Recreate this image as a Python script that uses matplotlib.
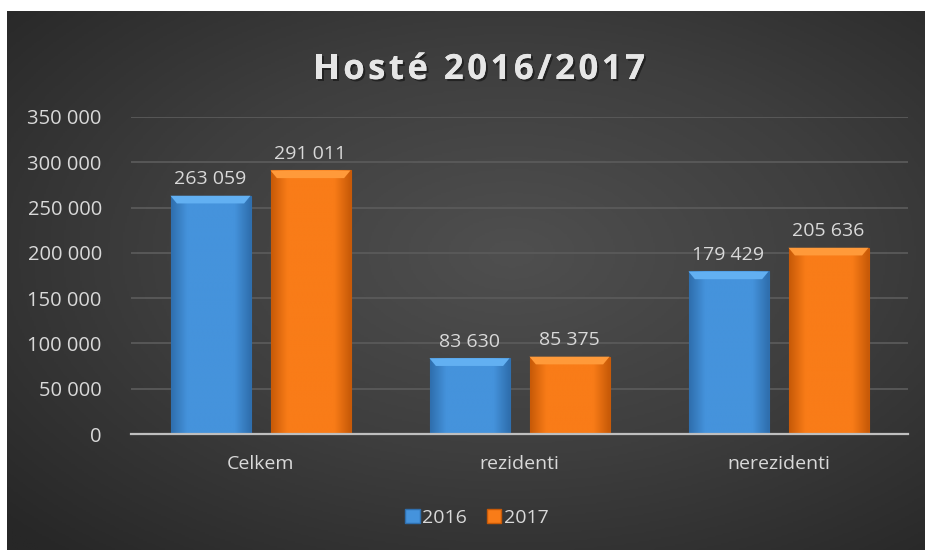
import matplotlib
matplotlib.use("Agg")
import matplotlib.pyplot as plt
import numpy as np
from matplotlib.colors import LinearSegmentedColormap
import matplotlib.patheffects as pe
from matplotlib.patches import Patch

categories = ["Celkem", "rezidenti", "nerezidenti"]
series_names = ["2016", "2017"]
values_2016 = [263059, 83630, 179429]
values_2017 = [291011, 85375, 205636]
yticks = [0, 50000, 100000, 150000, 200000, 250000, 300000, 350000]
title = "Hosté 2016/2017"

def fmt(v):
    return f"{v:,}".replace(",", " ")

plt.rcParams['font.family'] = ['Open Sans', 'DejaVu Sans']
txt = "#d9d9d9"

fig = plt.figure(figsize=(9.25, 5.5), dpi=100)
fig.patch.set_facecolor("white")

# background panel with radial gradient
bg = fig.add_axes([7/925, 0, 1 - 7/925, 1 - 11/550])
bg.set_axis_off()
ny, nx = 300, 500
yy, xx = np.mgrid[0:1:ny*1j, 0:1:nx*1j]
r = np.sqrt(((xx - 0.55) / 0.75) ** 2 + ((yy - 0.55) / 0.75) ** 2)
r = np.clip(r, 0, 1)
bg_cmap = LinearSegmentedColormap.from_list("bg", ["#4f4f4f", "#3e3e3e", "#272727"])
bg.imshow(r, cmap=bg_cmap, aspect="auto", extent=[0, 1, 0, 1], origin="lower")
bg.set_xlim(0, 1); bg.set_ylim(0, 1)

ax = fig.add_axes([131/925, 1 - 434/550, (908 - 131)/925, (434 - 117)/550])
ax.patch.set_alpha(0)
x = np.arange(len(categories))
w = 80 / 259
off = 50 / 259

colors = [("#4593dc", "#62b0f2", "#2f6fae"), ("#f97c18", "#ff9a3a", "#c85a08")]
for i, (vals, name) in enumerate(zip([values_2016, values_2017], series_names)):
    base, light, dark = colors[i]
    bars = ax.bar(x + (i * 2 - 1) * off, vals, width=w, color=base, zorder=3, label=name,
                  edgecolor=dark, linewidth=0.8)
    for b, v in zip(bars, vals):
        bx, by = b.get_x(), b.get_y()
        bw, bh = b.get_width(), b.get_height()
        grad = np.linspace(0, 1, 64)[None, :]
        im = ax.imshow(np.repeat(grad, 2, axis=0), cmap=LinearSegmentedColormap.from_list(
            "h", [dark, base, base, base, base, dark]), aspect="auto",
            extent=[bx, bx + bw, by, by + bh], zorder=3.5, interpolation="bicubic")
        im.set_clip_path(b)
        hb = 8500
        ax.fill([bx, bx + bw, bx + bw * 0.92, bx + bw * 0.08],
                [v, v, v - hb, v - hb], color=light, zorder=4, lw=0)
        ax.text(bx + bw / 2, v + 8500, fmt(v), ha="center", va="bottom",
                color=txt, fontsize=14, zorder=5)

ax.set_xlim(-0.5, 2.5)
ax.set_ylim(0, 350000)
ax.set_yticks(yticks)
ax.set_yticklabels([fmt(t) for t in yticks], color=txt, fontsize=14.5)
ax.set_xticks(x)
ax.set_xticklabels(categories, color=txt, fontsize=14)
ax.tick_params(axis="y", length=0, pad=21)
ax.tick_params(axis="x", length=0, pad=15)
ax.grid(axis="y", color="#5a5a5a", linewidth=1.3, zorder=0)
ax.set_axisbelow(True)
for s in ["top", "right", "left"]:
    ax.spines[s].set_visible(False)
ax.spines["bottom"].set_color("#bfbfbf")
ax.spines["bottom"].set_linewidth(1.6)
ax.spines["bottom"].set_zorder(6)

# title with manual letter spacing
fig.canvas.draw()
renderer = fig.canvas.get_renderer()
tkw = dict(fontsize=25, fontweight="bold", color="#e6e6e6", va="baseline", ha="left",
           path_effects=[pe.withSimplePatchShadow(offset=(1.5, -1.5), shadow_rgbFace="#111111", alpha=0.6), pe.Normal()])
spacing = 3.5  # px
widths = []
for ch in title:
    t = fig.text(0, 0, ch if ch != " " else "a", **tkw)
    ww = t.get_window_extent(renderer).width
    if ch == " ":
        t2 = fig.text(0, 0, "a a", **tkw)
        t3 = fig.text(0, 0, "aa", **tkw)
        ww = t2.get_window_extent(renderer).width - t3.get_window_extent(renderer).width
        t2.remove(); t3.remove()
    widths.append(ww)
    t.remove()
total = sum(widths) + spacing * (len(title) - 1)
cx = 479
xpos = cx - total / 2
for ch, ww in zip(title, widths):
    if ch != " ":
        fig.text(xpos / 925, 1 - 79 / 550, ch, **tkw)
    xpos += ww + spacing

handles = [Patch(facecolor=colors[0][0], edgecolor=colors[0][2]),
           Patch(facecolor=colors[1][0], edgecolor=colors[1][2])]
leg = fig.legend(handles, series_names, loc="center", bbox_to_anchor=(477/925, 1 - 518/550),
                 ncol=2, frameon=False, fontsize=14, handlelength=0.75, handleheight=0.75,
                 handletextpad=0.15, columnspacing=1.0)
for t in leg.get_texts():
    t.set_color(txt)

fig.savefig("out.png", dpi=100, facecolor=fig.get_facecolor())
